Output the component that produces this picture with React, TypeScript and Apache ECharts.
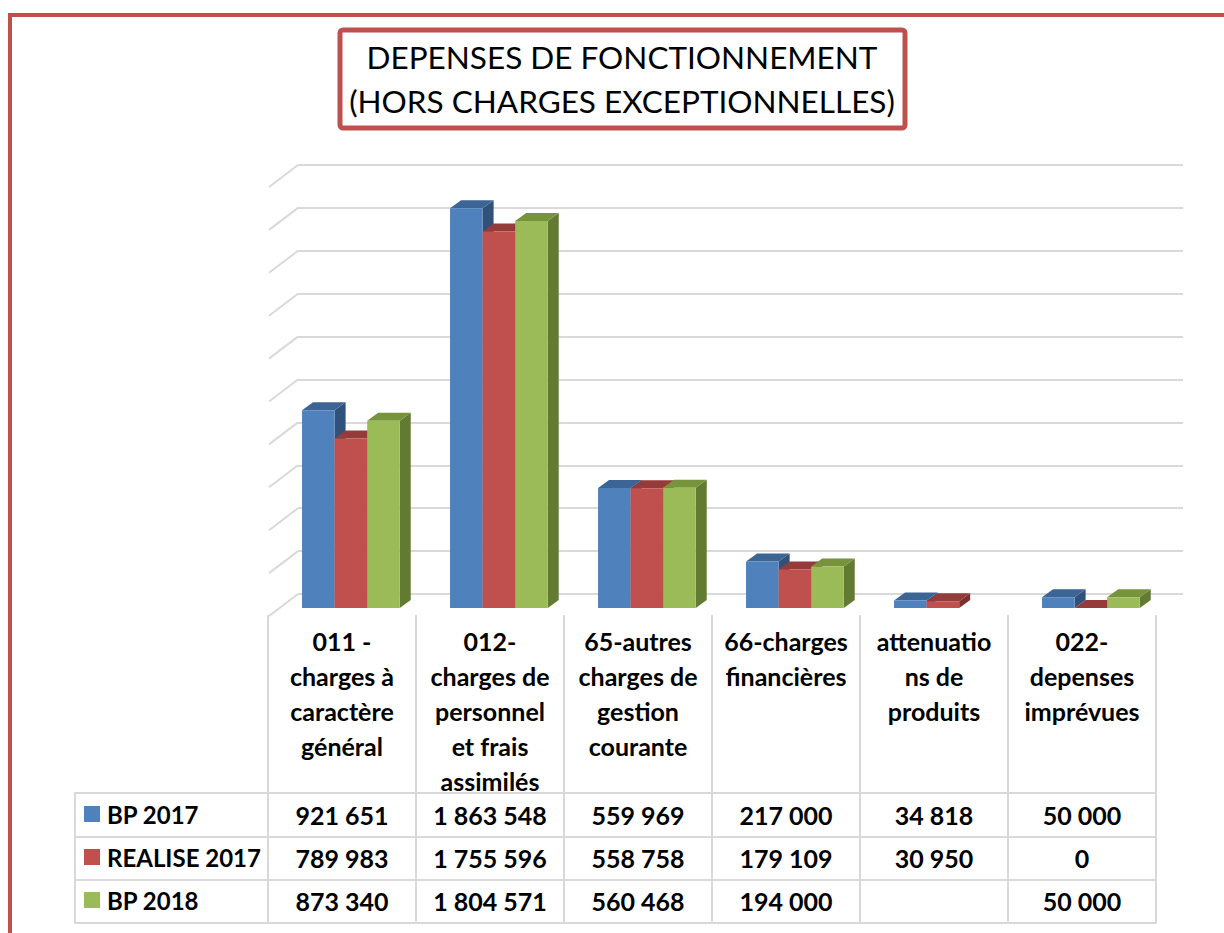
import React, { useEffect, useRef } from "react";
import * as echarts from "echarts";

const categories = [
  "011 -\ncharges à\ncaractère\ngénéral",
  "012-\ncharges de\npersonnel\net frais\nassimilés",
  "65-autres\ncharges de\ngestion\ncourante",
  "66-charges\nfinancières",
  "attenuatio\nns de\nproduits",
  "022-\ndepenses\nimprévues",
];
const seriesNames = ["BP 2017", "REALISE 2017", "BP 2018"];
const bp2017 = [921651, 1863548, 559969, 217000, 34818, 50000];
const realise2017 = [789983, 1755596, 558758, 179109, 30950, 0];
const bp2018 = [873340, 1804571, 560468, 194000, null, 50000];
const wallTicks = [0, 200000, 400000, 600000, 800000, 1000000, 1200000, 1400000, 1600000, 1800000, 2000000];

const titleText = "DEPENSES DE FONCTIONNEMENT\n(HORS CHARGES EXCEPTIONNELLES)";

const FRONT = ["#4f81bd", "#c0504d", "#9bbb59"];
const TOP = ["#3c6595", "#953b39", "#77933c"];
const SIDE = ["#30517a", "#7e302e", "#627a31"];
const ROW_Y = [815, 858, 901];
const FONT = "Lato";
const GRID_C = "#d9d9d9";

const fmt = (v: number) => String(v).replace(/\B(?=(\d{3})+(?!\d))/g, " ");

export default function App() {
  const ref = useRef<HTMLDivElement>(null);
  useEffect(() => {
    if (!ref.current) return;
    const chart = echarts.init(ref.current, undefined, { renderer: "svg" });
    const allSeries = [bp2017, realise2017, bp2018];
    const dx = 11;
    const dy = -8;

    const barSeries = allSeries.map((vals, s) => ({
      type: "custom",
      name: seriesNames[s],
      xAxisIndex: 0,
      yAxisIndex: 0,
      clip: false,
      itemStyle: { color: FRONT[s] },
      data: vals.map((v, i) => [i, v === null ? NaN : v]),
      renderItem: (params: any, api: any) => {
        const i = api.value(0);
        const v = api.value(1);
        const base = api.coord([i, 0]);
        const cx = base[0];
        const by = base[1];
        const band = api.size([1, 0])[0];
        const w = band * 0.22;
        const x = cx - 1.5 * w + band * 0.06 + s * w;
        const children: any[] = [];
        if (v !== null && v !== undefined && !isNaN(v)) {
          const ty = api.coord([i, v])[1];
          children.push({
            type: "polygon",
            shape: { points: [[x + w, ty], [x + w + dx, ty + dy], [x + w + dx, by + dy], [x + w, by]] },
            style: { fill: SIDE[s] },
          });
          children.push({
            type: "polygon",
            shape: { points: [[x, ty], [x + dx, ty + dy], [x + w + dx, ty + dy], [x + w, ty]] },
            style: { fill: TOP[s] },
          });
          if (by - ty > 0.5) {
            children.push({
              type: "rect",
              shape: { x, y: ty, width: w, height: by - ty },
              style: { fill: FRONT[s] },
            });
          }
          children.push({
            type: "text",
            x: cx,
            y: ROW_Y[s],
            style: {
              text: fmt(v),
              fill: "#000",
              fontSize: 25,
              fontWeight: "bold",
              fontFamily: FONT,
              align: "center",
              verticalAlign: "middle",
            },
          });
        }
        return { type: "group", children };
      },
    }));

    const wallSeries = {
      type: "custom",
      name: "wall",
      xAxisIndex: 1,
      yAxisIndex: 1,
      clip: false,
      silent: true,
      z: 1,
      data: wallTicks.map((t) => [0, t]),
      renderItem: (params: any, api: any) => {
        const p = api.coord([0, api.value(1)]);
        return {
          type: "line",
          shape: { x1: p[0] - 29, y1: p[1] + 22, x2: p[0], y2: p[1] },
          style: { stroke: GRID_C, lineWidth: 2 },
        };
      },
    };

    const tableLines: any[] = [];
    const left0 = 268;
    const band = 148;
    for (let k = 0; k <= categories.length; k++) {
      const x = left0 + k * band;
      tableLines.push({
        type: "line",
        shape: { x1: x, y1: 615, x2: x, y2: 924 },
        style: { stroke: GRID_C, lineWidth: 2 },
      });
    }
    tableLines.push({
      type: "line",
      shape: { x1: 75, y1: 793, x2: 75, y2: 924 },
      style: { stroke: GRID_C, lineWidth: 2 },
    });
    [793, 837, 880, 923].forEach((y) =>
      tableLines.push({
        type: "line",
        shape: { x1: 74, y1: y, x2: 1157, y2: y },
        style: { stroke: GRID_C, lineWidth: 2 },
      })
    );

    chart.setOption({
      animation: false,
      backgroundColor: "#ffffff",
      title: {
        text: titleText,
        left: 622,
        top: 35,
        textAlign: "center",
        padding: 0,
        textStyle: {
          fontFamily: FONT,
          fontSize: 31.5,
          fontWeight: "normal",
          color: "#000",
          lineHeight: 44,
        },
      },
      legend: {
        orient: "vertical",
        left: 84,
        top: 801,
        itemWidth: 16,
        itemHeight: 16,
        itemGap: 17,
        icon: "rect",
        padding: 0,
        selectedMode: false,
        data: seriesNames,
        textStyle: {
          fontFamily: FONT,
          fontSize: 24,
          fontWeight: "bold",
          color: "#000",
          lineHeight: 26,
          padding: [0, 0, 0, 2],
        },
      },
      grid: [
        { left: 268, top: 179, width: 888, height: 429 },
        { left: 298, top: 165, width: 885, height: 429 },
      ],
      xAxis: [
        {
          gridIndex: 0,
          type: "category",
          data: categories,
          axisLine: { show: false },
          axisTick: { show: false },
          splitLine: { show: false },
          axisLabel: {
            interval: 0,
            margin: 15,
            color: "#000",
            fontFamily: FONT,
            fontSize: 25,
            fontWeight: "bold",
            lineHeight: 35,
          },
        },
        { gridIndex: 1, type: "value", min: 0, max: 1, show: false },
      ],
      yAxis: [
        { gridIndex: 0, type: "value", min: 0, max: 2000000, interval: 200000, show: false },
        {
          gridIndex: 1,
          type: "value",
          min: 0,
          max: 2000000,
          interval: 200000,
          axisLine: { show: false },
          axisTick: { show: false },
          axisLabel: { show: false },
          splitLine: { show: true, lineStyle: { color: GRID_C, width: 2 } },
        },
      ],
      graphic: [
        {
          type: "polyline",
          shape: { points: [[10, 933], [10, 15], [1224, 15]] },
          style: { stroke: "#c0504d", lineWidth: 4, fill: "none" },
          z: 10,
        },
        {
          type: "rect",
          shape: { x: 340, y: 30, width: 565, height: 98, r: 3 },
          style: { stroke: "#c0504d", lineWidth: 5, fill: "none" },
          z: 10,
        },
        ...tableLines,
      ],
      series: [wallSeries, ...barSeries],
    });
    return () => chart.dispose();
  }, []);
  return (
    <div
      ref={ref}
      style={{ position: "absolute", left: 0, top: 0, width: 1224, height: 933 }}
    />
  );
}
